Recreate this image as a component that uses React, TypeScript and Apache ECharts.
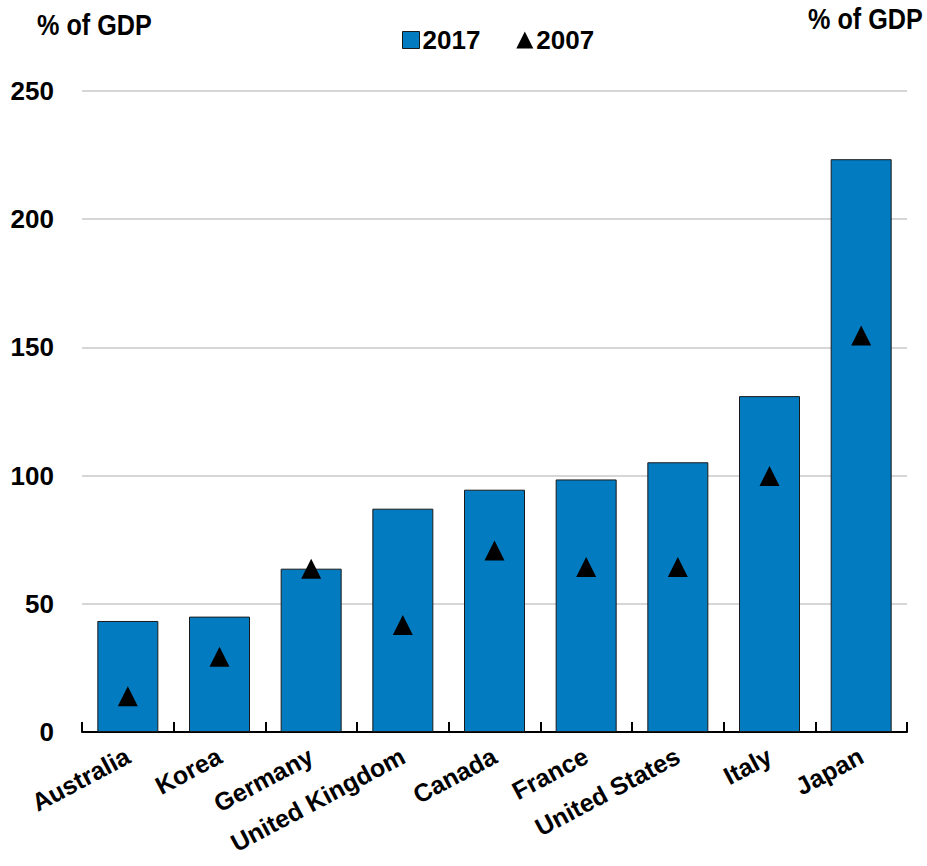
import { useEffect, useRef } from 'react';
import * as echarts from 'echarts';

const countries = ['Australia', 'Korea', 'Germany', 'United Kingdom', 'Canada', 'France', 'United States', 'Italy', 'Japan'];
const debt2017 = [43.3, 45.0, 63.7, 87.1, 94.5, 98.5, 105.2, 131.0, 223.4];
const debt2007 = [13.9, 29.3, 63.7, 41.7, 70.8, 64.4, 64.4, 99.8, 154.6];
const yMin = 0;
const yMax = 250;
const yStep = 50;

const font = "'Liberation Sans', Arial, sans-serif";
const barColor = '#037bc1';

export default function App() {
  const chartRef = useRef<HTMLDivElement>(null);

  useEffect(() => {
    if (!chartRef.current) return;
    const chart = echarts.init(chartRef.current, undefined, { renderer: 'svg' });

    const option: any = {
      animation: false,
      grid: { left: 82, right: 20, top: 91, bottom: 134, outerBoundsMode: 'none', containLabel: false },
      legend: {
        top: 22,
        left: 397,
        itemGap: 36,
        itemWidth: 17,
        itemHeight: 17,
        textStyle: { fontFamily: font, fontWeight: 'bold', fontSize: 26, color: '#000', padding: [0, 0, 0, -2] },
        data: [
          { name: '2017', icon: 'rect', itemStyle: { color: barColor, borderColor: '#1a1a1a', borderWidth: 1 } },
          { name: '2007', icon: 'triangle', itemStyle: { color: '#000', opacity: 1 } },
        ],
      },
      graphic: [
        {
          type: 'text',
          x: 37,
          y: 10,
          scaleX: 0.84,
          style: { text: '% of GDP', font: `bold 30px ${font}`, fill: '#000' },
        },
        {
          type: 'text',
          x: 808,
          y: 4,
          scaleX: 0.84,
          style: { text: '% of GDP', font: `bold 30px ${font}`, fill: '#000' },
        },
      ],
      xAxis: {
        type: 'category',
        data: countries,
        axisLine: { lineStyle: { color: '#000', width: 2 } },
        axisTick: { show: true, inside: true, length: 10, lineStyle: { color: '#000', width: 2 } },
        axisLabel: {
          interval: 0,
          rotate: 28,
          margin: 22,
          fontFamily: font,
          fontWeight: 'bold',
          fontSize: 25,
          color: '#000',
        },
      },
      yAxis: {
        type: 'value',
        min: yMin,
        max: yMax,
        interval: yStep,
        axisLine: { show: false },
        axisTick: { show: false },
        axisLabel: {
          margin: 28,
          fontFamily: font,
          fontWeight: 'bold',
          fontSize: 26,
          color: '#000',
        },
        splitLine: { lineStyle: { color: '#c8c8c8', width: 1.5 } },
      },
      series: [
        {
          name: '2017',
          type: 'bar',
          data: debt2017,
          barWidth: 61,
          itemStyle: { color: barColor, borderColor: '#1a1a1a', borderWidth: 1 },
        },
        {
          name: '2007',
          type: 'scatter',
          data: debt2007,
          symbol: 'triangle',
          symbolSize: 20,
          itemStyle: { color: '#000', opacity: 1 },
          z: 3,
        },
      ],
    };

    chart.setOption(option);

    return () => {
      chart.dispose();
    };
  }, []);

  return (
    <div
      ref={chartRef}
      style={{ position: 'fixed', left: 0, top: 0, width: '927px', height: '866px', background: '#fff' }}
    />
  );
}
